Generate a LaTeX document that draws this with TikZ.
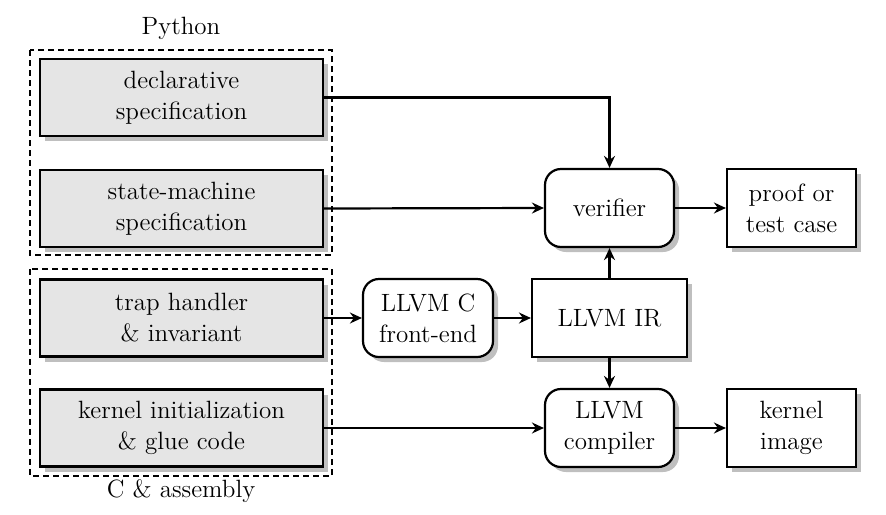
\documentclass[tikz,border=0pt]{standalone}
\usetikzlibrary{shadows,arrows.meta}
\begin{document}
\begin{tikzpicture}[x=0.5pt,y=-0.5pt,
 box/.style={draw,line width=1.1pt,align=center,font=\rmfamily\fontsize{12.5}{15.5}\selectfont,inner sep=0pt,
   drop shadow={shadow xshift=2.5pt,shadow yshift=-2.5pt,fill=black!25,opacity=1}},
 src/.style={box,fill=black!10,minimum width=141.5pt,minimum height=38.5pt},
 tool/.style={box,fill=white,rounded corners=8pt,minimum width=64.5pt,minimum height=39pt},
 outbox/.style={box,fill=white,minimum width=64.5pt,minimum height=39pt},
 conn/.style={line width=1.1pt,-{Stealth[length=6pt,width=5.5pt,inset=2pt]}},
 grp/.style={draw,line width=0.9pt,dash pattern=on 3pt off 2pt},
 lbl/.style={font=\rmfamily\fontsize{12.5}{15.5}\selectfont}]
\useasboundingbox (0,0) rectangle (886,514);
% groups
\draw[grp] (30,50) rectangle (332,255);
\draw[grp] (30,269) rectangle (332,476);
\node[lbl] (py) at (181,28) {Python};
\node[lbl] (ca) at (181,491) {C \& assembly};
% source boxes
\node[src] (decl) at (181.5,97.5) {declarative\\specification};
\node[src] (sm) at (181.5,208.5) {state-machine\\specification};
\node[src] (trap) at (181.5,318) {trap handler\\\& invariant};
\node[src] (kinit) at (181.5,428) {kernel initialization\\\& glue code};
% tools
\node[tool] (ver) at (609.5,208) {verifier};
\node[outbox] (proof) at (791.5,208) {proof or\\test case};
\node[tool,minimum width=65pt] (fe) at (428,318) {LLVM C\\front-end};
\node[outbox,minimum width=77.5pt] (ir) at (609.5,318) {LLVM IR};
\node[tool] (comp) at (609.5,428) {LLVM\\compiler};
\node[outbox] (kimg) at (791.5,428) {kernel\\image};
% connectors
\draw[conn] (decl.east) -| (ver.north);
\draw[conn] (sm.east) -- (ver.west);
\draw[conn] (ver.east) -- (proof.west);
\draw[conn] (trap.east) -- (fe.west);
\draw[conn] (fe.east) -- (ir.west);
\draw[conn] (ir.north) -- (ver.south);
\draw[conn] (ir.south) -- (comp.north);
\draw[conn] (kinit.east) -- (comp.west);
\draw[conn] (comp.east) -- (kimg.west);
\end{tikzpicture}
\end{document}
